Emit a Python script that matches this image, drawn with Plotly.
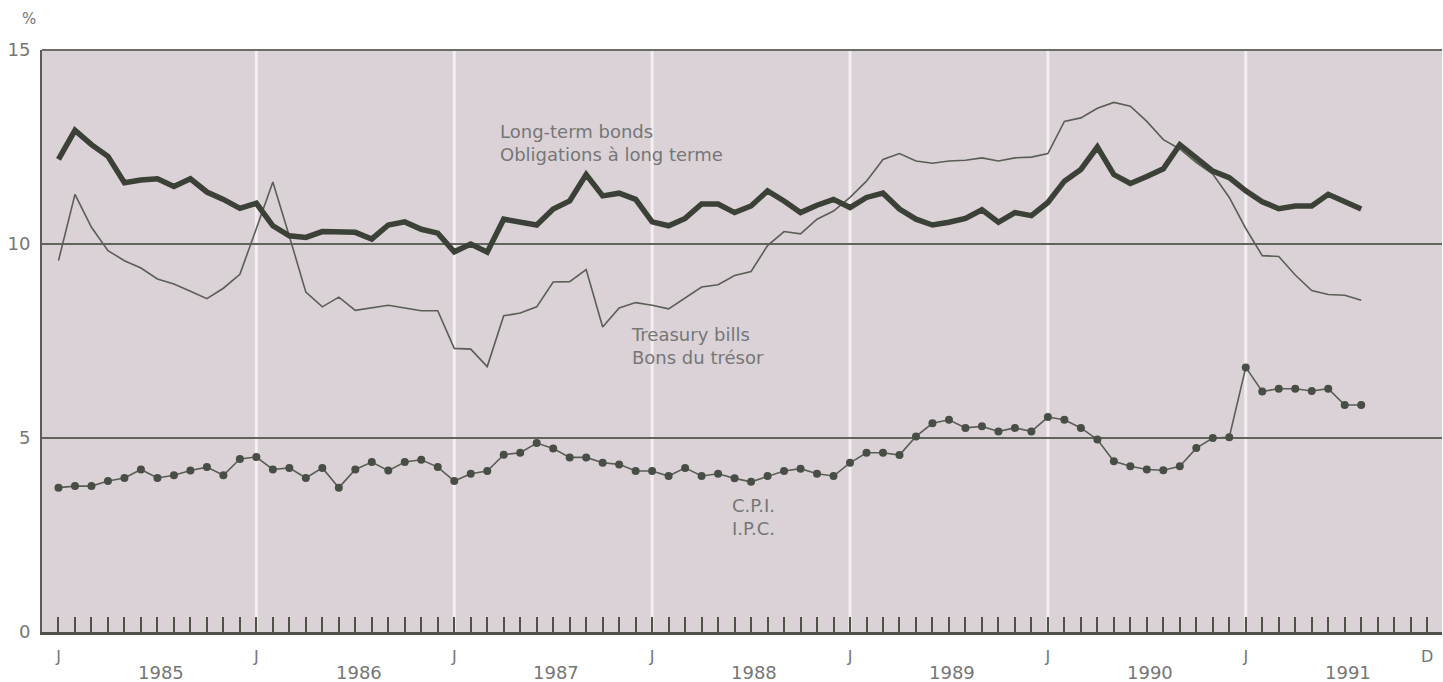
import plotly.graph_objects as go

# Monthly values, Jan 1985 .. Aug 1991 (percent)
long_term_bonds = [
    12.18, 12.93, 12.56, 12.26, 11.58, 11.65, 11.68, 11.48, 11.68, 11.34, 11.15, 10.92,
    11.05, 10.47, 10.21, 10.17, 10.32, 10.32, 10.30, 10.13, 10.49, 10.57, 10.38, 10.28,
    9.80, 10.00, 9.79, 10.64, 10.56, 10.49, 10.90, 11.11, 11.79, 11.24, 11.31, 11.15,
    10.57, 10.47, 10.66, 11.03, 11.03, 10.81, 10.98, 11.37, 11.11, 10.81, 11.00, 11.15,
    10.94, 11.20, 11.31, 10.90, 10.64, 10.49, 10.56, 10.66, 10.88, 10.56, 10.81, 10.73,
    11.07, 11.62, 11.92, 12.50, 11.79, 11.56, 11.74, 11.94, 12.56, 12.22, 11.88, 11.71,
    11.37, 11.09, 10.91, 10.98, 10.98, 11.28, 11.09, 10.90,
]
treasury_bills = [
    9.57, 11.28, 10.43, 9.83, 9.57, 9.38, 9.10, 8.97, 8.78, 8.59, 8.86, 9.22,
    10.40, 11.60, 10.20, 8.76, 8.38, 8.63, 8.29, 8.35, 8.42, 8.35, 8.28, 8.28,
    7.31, 7.29, 6.84, 8.15, 8.22, 8.38, 9.02, 9.03, 9.34, 7.86, 8.35, 8.49,
    8.42, 8.33, 8.61, 8.89, 8.95, 9.19, 9.29, 9.96, 10.32, 10.26, 10.64, 10.85,
    11.20, 11.62, 12.18, 12.33, 12.14, 12.08, 12.14, 12.16, 12.22, 12.14, 12.22, 12.24,
    12.33, 13.16, 13.25, 13.50, 13.65, 13.55, 13.16, 12.69, 12.45, 12.10, 11.80, 11.20,
    10.40, 9.70, 9.68, 9.20, 8.80, 8.70, 8.68, 8.55,
]
cpi = [
    3.72, 3.76, 3.76, 3.89, 3.97, 4.19, 3.97, 4.04, 4.16, 4.25, 4.04, 4.46,
    4.51, 4.19, 4.23, 3.97, 4.23, 3.72, 4.19, 4.38, 4.16, 4.38, 4.44, 4.25,
    3.89, 4.08, 4.15, 4.57, 4.62, 4.87, 4.73, 4.50, 4.50, 4.36, 4.32, 4.15,
    4.15, 4.02, 4.23, 4.02, 4.08, 3.96, 3.87, 4.02, 4.15, 4.21, 4.08, 4.02,
    4.36, 4.62, 4.62, 4.56, 5.04, 5.38, 5.47, 5.26, 5.30, 5.17, 5.26, 5.17,
    5.54, 5.47, 5.26, 4.96, 4.40, 4.27, 4.19, 4.17, 4.27, 4.74, 5.00, 5.02,
    6.82, 6.20, 6.27, 6.27, 6.21, 6.27, 5.85, 5.85,
]
month_index = list(range(len(cpi)))          # 0 = January 1985
axis_months = list(range(84))                # Jan 1985 .. Dec 1991
axis_text = ["J" if m % 12 == 0 else ("D" if m == 83 else "") for m in axis_months]
years = ["1985", "1986", "1987", "1988", "1989", "1990", "1991"]
y_ticks = [0, 5, 10, 15]

LINE_DARK = "#3c4137"
LINE_MID = "#5a5e56"
TEXT = "#767676"
FONT = "DejaVu Sans"

fig = go.Figure()
fig.add_trace(go.Scatter(x=month_index, y=treasury_bills, mode="lines",
                         line=dict(color=LINE_MID, width=1.6), hoverinfo="skip"))
fig.add_trace(go.Scatter(x=month_index, y=long_term_bonds, mode="lines",
                         line=dict(color=LINE_DARK, width=5.5), hoverinfo="skip"))
fig.add_trace(go.Scatter(x=month_index, y=cpi, mode="lines+markers",
                         line=dict(color=LINE_MID, width=1.6),
                         marker=dict(color="#484e45", size=8), hoverinfo="skip"))

shapes = []
for k in range(1, 7):
    shapes.append(dict(type="line", xref="x", yref="paper", x0=12 * k, x1=12 * k, y0=0, y1=1,
                       line=dict(color="#f3eef1", width=3), layer="below"))
shapes.append(dict(type="line", xref="paper", yref="paper", x0=0, x1=1, y0=1, y1=1,
                   line=dict(color="#6a6c68", width=2)))

annotations = []
for i, yr in enumerate(years):
    annotations.append(dict(x=12 * i + 6.2, y=-0.069, xref="x", yref="paper", text=yr,
                            yanchor="middle", showarrow=False,
                            font=dict(family=FONT, size=18, color=TEXT)))
annotations.append(dict(x=-0.016, y=1.053, xref="paper", yref="paper", text="%",
                        yanchor="middle", showarrow=False,
                        font=dict(family=FONT, size=15, color=TEXT)))
annotations.append(dict(x=26.65, y=12.6, xref="x", yref="y", xanchor="left", yanchor="middle",
                        align="left", text="Long-term bonds<br>Obligations à long terme",
                        showarrow=False, font=dict(family=FONT, size=18, color=TEXT)))
annotations.append(dict(x=34.6, y=7.36, xref="x", yref="y", xanchor="left", yanchor="middle",
                        align="left", text="Treasury bills<br>Bons du trésor",
                        showarrow=False, font=dict(family=FONT, size=18, color=TEXT)))
annotations.append(dict(x=40.7, y=2.96, xref="x", yref="y", xanchor="left", yanchor="middle",
                        align="left", text="C.P.I.<br>I.P.C.",
                        showarrow=False, font=dict(family=FONT, size=18, color=TEXT)))

fig.update_layout(
    width=1443, height=682,
    margin=dict(l=42, r=1, t=50, b=50),
    paper_bgcolor="white", plot_bgcolor="#dad2d6",
    showlegend=False,
    shapes=shapes, annotations=annotations,
    xaxis=dict(range=[-1.0, 83.9], tickvals=axis_months, ticktext=axis_text,
               ticks="inside", ticklen=15, tickwidth=2, tickcolor="#4e5249",
               showline=True, linewidth=3, linecolor="#4e5249",
               showgrid=False, zeroline=False, ticklabelstandoff=8,
               tickfont=dict(family=FONT, size=16, color=TEXT)),
    yaxis=dict(range=[0, 15], tickvals=y_ticks, ticks="",
               showgrid=True, gridcolor="#60645b", gridwidth=2, zeroline=False,
               showline=True, linewidth=2, linecolor="#5a5c58", ticklabelstandoff=6,
               tickfont=dict(family=FONT, size=18, color=TEXT)),
)

fig.write_html("out.html", config={"displayModeBar": False},
               post_script="document.body.style.margin='0';document.body.style.overflow='hidden';")
